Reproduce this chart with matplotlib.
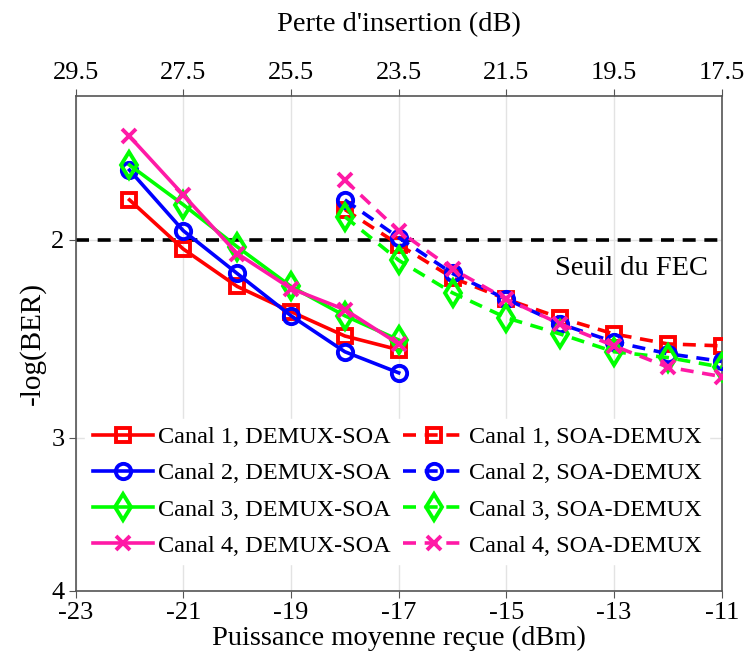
"""BER vs received power, DEMUX-SOA vs SOA-DEMUX configurations."""

import matplotlib
matplotlib.use("Agg")
import matplotlib.pyplot as plt
import numpy as np

# received power (dBm)
X_DEMUX_SOA = [-22, -21, -20, -19, -18, -17]
X_SOA_DEMUX = [-18, -17, -16, -15, -14, -13, -12, -11]

# -log(BER), DEMUX-SOA
C1_DS = [1.83, 2.04, 2.21, 2.33, 2.45, 2.52]
C2_DS = [1.71, 1.96, 2.15, 2.35, 2.53, 2.64]
C3_DS = [1.69, 1.85, 2.03, 2.21, 2.35, 2.47]
C4_DS = [1.58, 1.81, 2.06, 2.22, 2.32, 2.49]

# -log(BER), SOA-DEMUX
C1_SD = [1.87, 2.02, 2.17, 2.27, 2.36, 2.44, 2.49, 2.50]
C2_SD = [1.83, 1.99, 2.15, 2.27, 2.39, 2.48, 2.54, 2.58]
C3_SD = [1.90, 2.09, 2.24, 2.36, 2.44, 2.53, 2.56, 2.61]
C4_SD = [1.75, 1.96, 2.13, 2.27, 2.39, 2.50, 2.61, 2.66]

LABELS = ["Canal 1", "Canal 2", "Canal 3", "Canal 4"]
COLORS = ["#ff0000", "#0000ff", "#00ff00", "#ff19a6"]
MARKERS = ["s", "o", "d", "x"]
SIZES = [10, 11, 13, 10]

X_TICKS = [-23, -21, -19, -17, -15, -13, -11]
TOP_LABELS = ["29.5", "27.5", "25.5", "23.5", "21.5", "19.5", "17.5"]
Y_TICKS = [2, 3, 4]
FEC = 2

plt.rcParams["font.family"] = ["Liberation Serif", "DejaVu Serif"]

fig = plt.figure(figsize=(7.49, 6.64), dpi=100)
ax = fig.add_axes([0.101, 0.110, 0.8626, 0.7454])

ax.set_yscale("function", functions=(lambda v: np.log10(v + 1), lambda v: 10 ** v - 1))

for ys, lab, col, mk, ms in zip([C1_DS, C2_DS, C3_DS, C4_DS], LABELS, COLORS, MARKERS, SIZES):
    ax.plot(X_DEMUX_SOA, ys, color=col, lw=2.6, marker=mk, ms=ms, mew=2.8,
            mfc="none", label=f"{lab}, DEMUX-SOA", zorder=3)

for ys, lab, col, mk, ms in zip([C1_SD, C2_SD, C3_SD, C4_SD], LABELS, COLORS, MARKERS, SIZES):
    ax.plot(X_SOA_DEMUX, ys, color=col, lw=2.6, ls=(0, (3.6, 2.4)), marker=mk,
            ms=ms, mew=2.8, mfc="none", label=f"{lab}, SOA-DEMUX", zorder=3)

ax.axhline(FEC, color="black", lw=2.6, ls=(0, (3.6, 2.4)), zorder=2)
ax.text(-11.25, 2.125, "Seuil du FEC", fontsize=20.5, ha="right", va="center")

ax.set_xlim(-23, -11)
ax.set_ylim(4, 1.433)
ax.set_xticks(X_TICKS)
ax.set_xticklabels([str(t) for t in X_TICKS])
ax.set_yticks(Y_TICKS)
ax.set_yticklabels([str(t) for t in Y_TICKS])
ax.yaxis.set_minor_locator(matplotlib.ticker.NullLocator())
ax.grid(True, color="#e3e3e3", lw=1.0, zorder=0)
ax.set_axisbelow(True)
ax.tick_params(labelsize=19, direction="out", length=5, color="#555555", pad=3)
for sp in ax.spines.values():
    sp.set_color("#555555")
    sp.set_linewidth(1.2)

ax.set_xlabel("Puissance moyenne reçue (dBm)", fontsize=20.5, labelpad=1)
ax.set_ylabel("-log(BER)", fontsize=21, labelpad=4)

top = ax.twiny()
top.set_xlim(ax.get_xlim())
top.set_xticks(X_TICKS)
top.set_xticklabels(TOP_LABELS)
top.tick_params(labelsize=19, direction="out", length=5, color="#555555", pad=4)
for sp in top.spines.values():
    sp.set_visible(False)
top.set_xlabel("Perte d'insertion (dB)", fontsize=20.5, labelpad=22)

leg = ax.legend(loc="lower left", ncol=2, fontsize=17.5, frameon=True,
                framealpha=1, edgecolor="white", handlelength=2.5,
                handletextpad=0.2, columnspacing=0.5, labelspacing=0.58,
                borderaxespad=0.4, borderpad=0.3, bbox_to_anchor=(0.0, 0.035))

fig.savefig("out.png", dpi=100)
